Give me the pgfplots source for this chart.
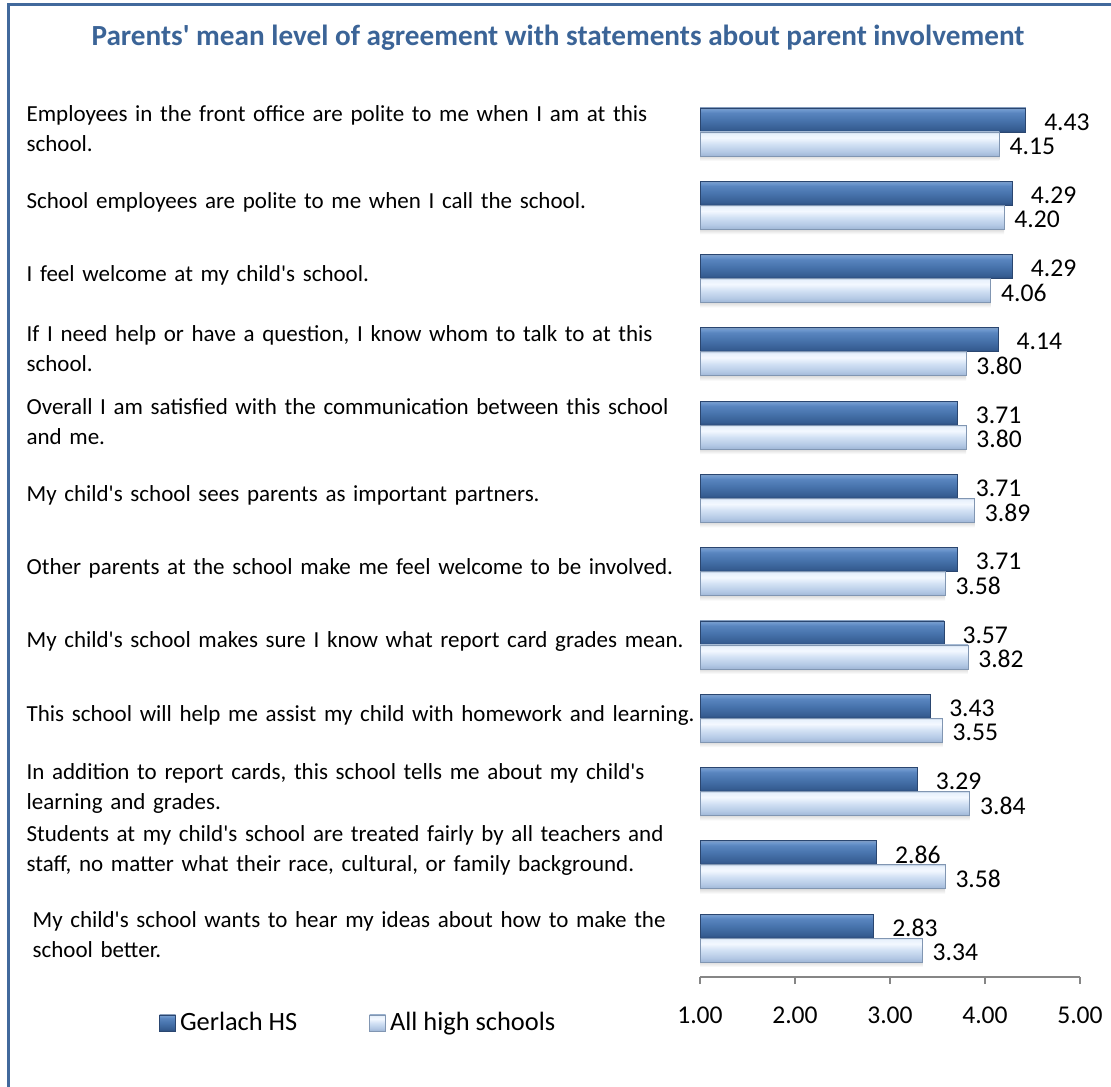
\documentclass[border=0pt]{standalone}
\usepackage{fontspec}
\setmainfont{Carlito}[Ligatures=TeXOff]
\usepackage{pgfplots}
\usepackage{pgfplotstable}
\pgfplotsset{compat=1.18}

\definecolor{frameblue}{HTML}{41699C}
\definecolor{titleblue}{HTML}{3B6497}
\definecolor{darkedge}{HTML}{2A4670}
\definecolor{lightedge}{HTML}{8196B2}
\definecolor{axisgray}{HTML}{868686}
\definecolor{dA}{HTML}{2C4C7C}
\definecolor{dB}{HTML}{365D92}
\definecolor{dC}{HTML}{4874AD}
\definecolor{dD}{HTML}{5985BF}
\definecolor{dE}{HTML}{6E98CE}
\definecolor{dF}{HTML}{7E9CC4}
\definecolor{lA}{HTML}{9FB6D6}
\definecolor{lB}{HTML}{B4C9E5}
\definecolor{lC}{HTML}{D2E1F4}
\definecolor{lD}{HTML}{F3F8FF}
\definecolor{lE}{HTML}{E8F1FC}
\definecolor{lF}{HTML}{C0D0E4}

\pgfdeclareverticalshading{darkbar}{100bp}{color(0bp)=(dA); color(25bp)=(dA); color(31bp)=(dB); color(50bp)=(dC); color(65bp)=(dD); color(71bp)=(dE); color(75bp)=(dF); color(100bp)=(dF)}
\pgfdeclareverticalshading{lightbar}{100bp}{color(0bp)=(lA); color(25bp)=(lA); color(34bp)=(lB); color(50bp)=(lC); color(63bp)=(lD); color(72bp)=(lE); color(75bp)=(lF); color(100bp)=(lF)}

% values per statement, top statement at pos 11
\pgfplotstableread{
pos g a
11 4.43 4.15
10 4.29 4.20
9 4.29 4.06
8 4.14 3.80
7 3.71 3.80
6 3.71 3.89
5 3.71 3.58
4 3.57 3.82
3 3.43 3.55
2 3.29 3.84
1 2.86 3.58
0 2.83 3.34
}\scores

\begin{document}
\begin{tikzpicture}
\path[use as bounding box] (0,0) rectangle (555.5pt,-543pt);
\begin{scope}
\clip (0,0) rectangle (555.5pt,-543pt);
\draw[frameblue, line width=1.5pt] (4pt,-2.5pt) rectangle (600pt,-600pt);
\end{scope}
\node[font=\bfseries\fontsize{14.6}{17}\selectfont, text=titleblue] at (279pt,-19pt)
  {Parents' mean level of agreement with statements about parent involvement};

\begin{axis}[
  at={(350pt,-488.5pt)}, anchor=south west,
  scale only axis, width=190pt, height=442pt,
  xbar, bar width=12pt,
  xmin=0, xmax=4, ymin=-0.532, ymax=11.532,
  axis x line*=bottom,
  x axis line style={draw=axisgray, line width=0.6pt},
  y axis line style={draw=none},
  xtick={0,1,2,3,4},
  xticklabels={1.00,2.00,3.00,4.00,5.00},
  tick align=outside, major tick length=3.5pt,
  xtick style={draw=axisgray, line width=0.6pt},
  xticklabel style={font=\fontsize{12.8}{15}\selectfont, yshift=-8pt},
  /pgf/number format/assume math mode=true,
  ytick={0,1.15,2,3,4,5,6,7,8,9,10,11},
  ytick style={draw=none},
  yticklabels={
    {\hspace*{3pt}My child's school wants to hear my ideas about how to make the\\\hspace*{3pt}school better.},
    {Students at my child's school are treated fairly by all teachers and\\staff, no matter what their race, cultural, or family background.},
    {In addition to report cards, this school tells me about my child's\\learning and grades.},
    {This school will help me assist my child with homework and learning.},
    {My child's school makes sure I know what report card grades mean.},
    {Other parents at the school make me feel welcome to be involved.},
    {My child's school sees parents as important partners.},
    {Overall I am satisfied with the communication between this school\\and me.},
    {If I need help or have a question, I know whom to talk to at this\\school.},
    {I feel welcome at my child's school.},
    {School employees are polite to me when I call the school.},
    {Employees in the front office are polite to me when I am at this\\school.}},
  yticklabel style={text width=340pt, align=left, anchor=east, inner sep=0pt,
    xshift=7pt, yshift=1.5pt, font=\fontsize{11.5}{15}\selectfont},
  nodes near coords={\pgfmathprintnumber[fixed,fixed zerofill,precision=2]{\pgfplotspointmeta}},
  nodes near coords style={font=\fontsize{12.8}{15}\selectfont, inner sep=0pt, anchor=west, yshift=-1pt},
  point meta=explicit,
  clip=false,
  legend columns=2,
  legend style={at={(-1.44,-0.052)}, anchor=west, draw=none, fill=none,
    font=\fontsize{13.2}{15}\selectfont,
    /tikz/every even column/.append style={column sep=34pt}},
]
% one bar per plot, so that each bar gets its own shading
\pgfplotsinvokeforeach{0,...,11}{
  \addplot[forget plot, draw=none, top color=black!40, middle color=black!40, bottom color=white,
    bar width=7pt, bar shift=-11pt, nodes near coords={},
    y filter/.expression={abs(y-#1)<0.2 ? y : nan}]
    table[x expr=\thisrow{a}-1, y=pos, meta=a] {\scores};
  \addplot[forget plot, draw=darkedge, shade, shading=darkbar, bar shift=6pt,
    nodes near coords style={xshift=9pt},
    y filter/.expression={abs(y-#1)<0.2 ? y : nan}]
    table[x expr=\thisrow{g}-1, y=pos, meta=g] {\scores};
  \addplot[forget plot, draw=lightedge, shade, shading=lightbar, bar shift=-6pt,
    nodes near coords style={xshift=5pt},
    y filter/.expression={abs(y-#1)<0.2 ? y : nan}]
    table[x expr=\thisrow{a}-1, y=pos, meta=a] {\scores};
}
\addlegendimage{legend image code/.code={\shade[shading=darkbar, draw=darkedge] (0pt,-4pt) rectangle (8pt,4pt);}}
\addlegendentry{Gerlach HS}
\addlegendimage{legend image code/.code={\shade[shading=lightbar, draw=lightedge] (0pt,-4pt) rectangle (8pt,4pt);}}
\addlegendentry{All high schools}
\end{axis}
\end{tikzpicture}
\end{document}
